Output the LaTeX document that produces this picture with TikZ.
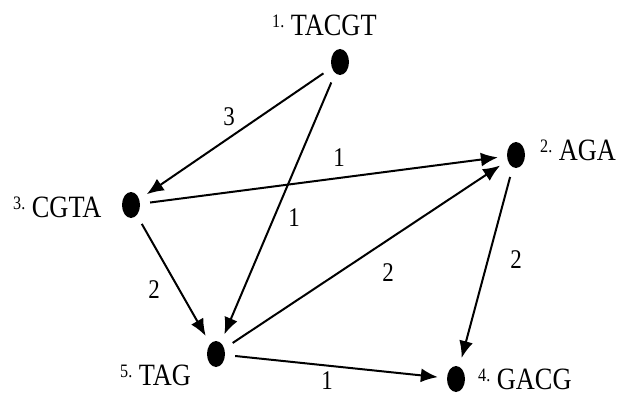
\documentclass[tikz,border=0pt]{standalone}
\usepackage{fontspec}
\setmainfont{Liberation Serif}[FakeStretch=0.85]
\usepackage{tikz}
\usetikzlibrary{shapes.geometric, arrows.meta}
\tikzstyle{dot} = [ellipse, fill=black, minimum width=18pt, minimum height=26pt, inner sep=0pt]
\tikzstyle{arrow} = [line width=2pt, -{Latex[length=17pt,width=14pt]}, shorten <=10pt, shorten >=9pt]
\tikzstyle{seq} = [anchor=base west, inner sep=0pt, font=\fontsize{31}{36}\selectfont]
\tikzstyle{weight} = [inner sep=0pt, font=\fontsize{27}{32}\selectfont]
\newcommand{\seqno}[1]{{\fontsize{19}{22}\selectfont\raisebox{8pt}{#1}}}

\begin{document}
\begin{tikzpicture}[x=1pt,y=-1pt]
    \useasboundingbox (0,0) rectangle (618,396);
    % vertices
    \node[dot] (tacgt) at (340,62) {};
    \node[dot] (aga) at (516,155) {};
    \node[dot] (cgta) at (131,205) {};
    \node[dot] (gacg) at (456,379) {};
    \node[dot] (tag) at (216,354) {};
    % sequence names
    \node[seq] (tacgtname) at (272,36) {\seqno{1.} TACGT};
    \node[seq] (aganame) at (540,160) {\seqno{2.} AGA};
    \node[seq] (cgtaname) at (13,217) {\seqno{3.} CGTA};
    \node[seq] (gacgname) at (478,389) {\seqno{4.} GACG};
    \node[seq] (tagname) at (120,385) {\seqno{5.} TAG};
    % edges
    \draw[arrow] (tacgt) -- (cgta);
    \draw[arrow] (tacgt) -- (tag);
    \draw[arrow] (cgta) -- (aga);
    \draw[arrow] (cgta) -- (tag);
    \draw[arrow] (tag) -- (aga);
    \draw[arrow] (aga) -- (gacg);
    \draw[arrow] (tag) -- (gacg);
    % weights
    \node[weight] (w13) at (229,117) {3};
    \node[weight] (w15) at (294,218) {1};
    \node[weight] (w32) at (339,158) {1};
    \node[weight] (w35) at (154,290) {2};
    \node[weight] (w52) at (388,273) {2};
    \node[weight] (w24) at (516,260) {2};
    \node[weight] (w54) at (327,381) {1};
\end{tikzpicture}
\end{document}
